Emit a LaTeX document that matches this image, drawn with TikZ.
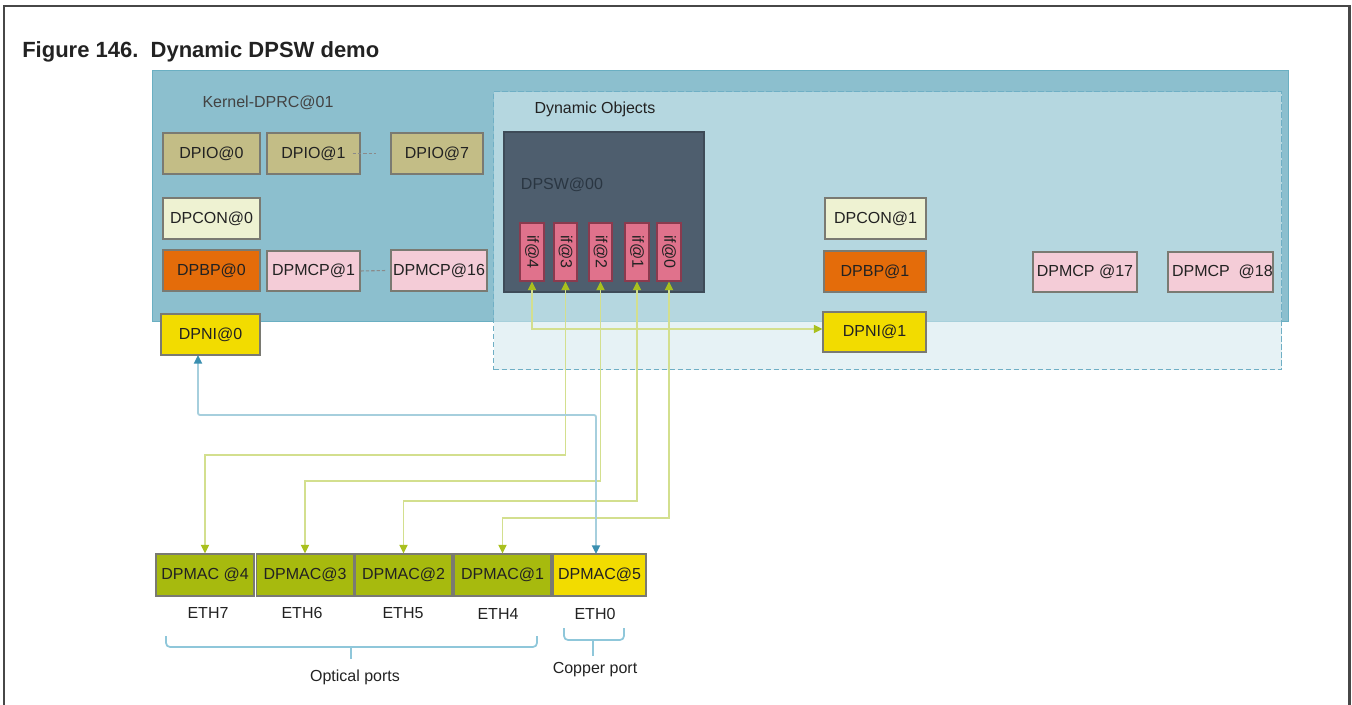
\documentclass[tikz,border=0pt]{standalone}
\usepackage{fontspec}
\setmainfont{Liberation Sans}
\usetikzlibrary{arrows.meta}
\definecolor{framec}{HTML}{474747}
\definecolor{kernf}{HTML}{8CBFCE}
\definecolor{kernb}{HTML}{6AAFC2}
\definecolor{dynf}{RGB}{212,233,238}
\definecolor{dynb}{HTML}{6FAFC5}
\definecolor{boxb}{HTML}{7A7A72}
\definecolor{dotc}{HTML}{8A8A8A}
\definecolor{txt}{HTML}{222222}
\definecolor{iof}{HTML}{C3BD86}
\definecolor{conf}{HTML}{EEF2D2}
\definecolor{bpf}{HTML}{E46C0A}
\definecolor{mcpf}{HTML}{F4CCD7}
\definecolor{nif}{HTML}{F2DC00}
\definecolor{swf}{HTML}{4E5E6E}
\definecolor{swt}{HTML}{2A3642}
\definecolor{iff}{HTML}{E0728C}
\definecolor{iffb}{HTML}{8A3A4E}
\definecolor{macf}{HTML}{A7BA0E}
\definecolor{gline}{HTML}{D3DF8E}
\definecolor{ghead}{HTML}{A9C01E}
\definecolor{bline}{HTML}{A6CFDD}
\definecolor{bhead}{HTML}{3A8FB0}
\definecolor{bracec}{HTML}{8FC7DA}
\tikzset{
  wh/.style 2 args={minimum width=#1*0.75pt, minimum height=#2*0.75pt},
  box/.style={draw=boxb, line width=0.8pt, inner sep=0pt, text=txt,
    font=\fontsize{12}{14}\selectfont},
  iobox/.style={box, fill=iof},
  conbox/.style={box, fill=conf},
  bpbox/.style={box, fill=bpf},
  mcpbox/.style={box, fill=mcpf},
  nibox/.style={box, fill=nif},
  macbox/.style={box, fill=macf},
  ifbox/.style={box, draw=iffb, fill=iff, wh={24}{58}},
  lbl/.style={text=txt, inner sep=0pt, font=\fontsize{12}{14}\selectfont},
  garrow/.style={draw=gline, line width=1.4pt,
    {Triangle[length=6.5pt,width=6pt,color=ghead]}-{Triangle[length=6.5pt,width=6pt,color=ghead]}},
  barrow/.style={draw=bline, line width=1.4pt, rounded corners=1.5pt,
    {Triangle[length=6.5pt,width=6pt,color=bhead]}-{Triangle[length=6.5pt,width=6pt,color=bhead]}},
  dots/.style={draw=dotc, line width=0.8pt, dash pattern=on 2.5pt off 1.5pt},
  bracel/.style={draw=bracec, line width=1.3pt, rounded corners=3pt}
}
\begin{document}
\begin{tikzpicture}[x=0.75pt,y=-0.75pt]
\useasboundingbox (0,0) rectangle (1352,705);
% frame
\draw[framec, line width=1.6pt] (4,705) -- (4,6) -- (1349.5,6) -- (1349.5,705);
\node[anchor=base west, inner sep=0pt, text=txt, font=\fontsize{16.5}{20}\selectfont\bfseries] (title) at (22,58) {Figure 146.\ \ Dynamic DPSW demo};
% containers
\node[draw=kernb, fill=kernf, line width=1pt, inner sep=0pt, anchor=north west, wh={1136}{251}] (kernel) at (152,70) {};
\node[draw=dynb, fill=dynf, fill opacity=0.58, draw opacity=1, line width=1.1pt, dash pattern=on 4pt off 2pt, inner sep=0pt, anchor=north west, wh={788}{278}] (dyn) at (493,91) {};
\node[lbl, text=txt!85] (kernlbl) at (268,103) {Kernel-DPRC@01};
\node[lbl] (dynlbl) at (595,109) {Dynamic Objects};
% kernel objects
\node[iobox, wh={97}{41}] (DPIO0) at (211.5,153.5) {DPIO@0};
\node[iobox, wh={93}{41}] (DPIO1) at (313.5,153.5) {DPIO@1};
\node[iobox, wh={92}{41}] (DPIO7) at (437,153.5) {DPIO@7};
\node[conbox, wh={97}{41}] (DPCON0) at (211.5,218.5) {DPCON@0};
\node[bpbox, wh={97}{41}] (DPBP0) at (211.5,270.5) {DPBP@0};
\node[mcpbox, wh={93}{40}] (DPMCP1) at (313.5,271) {DPMCP@1};
\node[mcpbox, wh={96}{41}] (DPMCP16) at (439,270.5) {DPMCP@16};
\node[nibox, wh={99}{41}] (DPNI0) at (210.5,334.5) {DPNI@0};
\draw[dots] ([xshift=-6pt]DPIO1.east) -- ([xshift=-11pt]DPIO7.west);
\draw[dots] (DPMCP1.east) -- ([xshift=-3pt]DPMCP16.west);
% dynamic objects
\node[box, draw=swf!80!black, fill=swf, wh={200}{160}] (DPSW) at (604,212) {};
\node[lbl, text=swt] (swlbl) at (562,185) {DPSW@00};
\node[ifbox] (if4) at (532,252) {\rotatebox{-90}{if@4}};
\node[ifbox, wh={23}{58}] (if3) at (565.5,252) {\rotatebox{-90}{if@3}};
\node[ifbox, wh={23}{58}] (if2) at (600.5,252) {\rotatebox{-90}{if@2}};
\node[ifbox] (if1) at (637,252) {\rotatebox{-90}{if@1}};
\node[ifbox] (if0) at (669,252) {\rotatebox{-90}{if@0}};
\node[conbox, wh={101}{41}] (DPCON1) at (875.5,218.5) {DPCON@1};
\node[bpbox, wh={102}{41}] (DPBP1) at (875,271.5) {DPBP@1};
\node[nibox, wh={103}{40}] (DPNI1) at (874.5,332) {DPNI@1};
\node[mcpbox, wh={104}{40}] (DPMCP17) at (1085,272) {DPMCP @17};
\node[mcpbox, wh={105}{40}] (DPMCP18) at (1220.5,272) {};
\node[lbl, anchor=east] (m18lbl) at (1273,272) {DPMCP\ \ @18};
% DPMAC row
\node[macbox, wh={98}{42}] (MAC4) at (205,575) {DPMAC @4};
\node[macbox, wh={97}{42}] (MAC3) at (305,575) {DPMAC@3};
\node[macbox, wh={97}{42}] (MAC2) at (403.5,575) {DPMAC@2};
\node[macbox, wh={97}{42}] (MAC1) at (502.5,575) {DPMAC@1};
\node[nibox, wh={93}{42}] (MAC5) at (599.5,575) {DPMAC@5};
\node[lbl] (eth7) at (208,613) {ETH7};
\node[lbl] (eth6) at (302,613) {ETH6};
\node[lbl] (eth5) at (403,613) {ETH5};
\node[lbl] (eth4) at (498,614) {ETH4};
\node[lbl] (eth0) at (595,614) {ETH0};
% braces
\draw[bracel] (166,636) -- (166,647) -- (537,647) -- (537,636);
\draw[bracel] (351,647) -- (351,659);
\node[lbl] (optical) at (355,677) {Optical ports};
\draw[bracel] (564,628) -- (564,640) -- (624,640) -- (624,628);
\draw[bracel] (593,640) -- (593,656);
\node[lbl] (copper) at (595,670) {Copper port};
% connectors
\draw[garrow] (if4.south) -- (if4.south |- 0,329) -- (DPNI1.west |- 0,329);
\draw[garrow] (if3.south) -- (if3.south |- 0,455) -- (MAC4.north |- 0,455) -- (MAC4.north);
\draw[garrow] (if2.south) -- (if2.south |- 0,481) -- (MAC3.north |- 0,481) -- (MAC3.north);
\draw[garrow] (if1.south) -- (if1.south |- 0,501) -- (MAC2.north |- 0,501) -- (MAC2.north);
\draw[garrow] (if0.south) -- (if0.south |- 0,518) -- (MAC1.north |- 0,518) -- (MAC1.north);
\coordinate (b1) at (198,355);
\coordinate (b2) at (596,554);
\draw[barrow] (b1) -- (198,415) -- (596,415) -- (b2);
\end{tikzpicture}
\end{document}
